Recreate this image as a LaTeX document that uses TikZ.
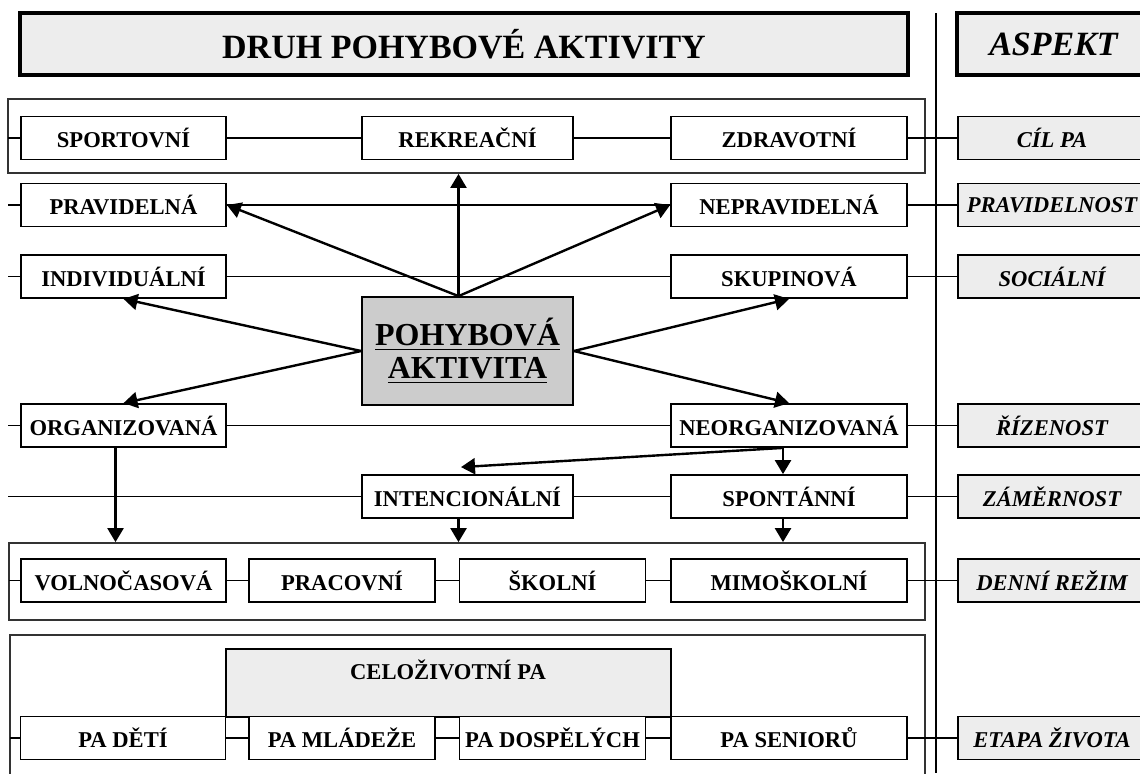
\documentclass[tikz,border=0pt]{standalone}
\usepackage{fontspec}
\setmainfont{Liberation Serif}
\usetikzlibrary{arrows.meta}
\definecolor{panelgray}{HTML}{EDEDED}
\definecolor{coregray}{HTML}{CCCCCC}
\newcommand{\boxfont}{\fontsize{11.3}{13}\selectfont\bfseries}
\newcommand{\headfont}{\fontsize{17}{20}\selectfont\bfseries}

\begin{document}
\begin{tikzpicture}[x=0.5pt,y=-0.5pt,
    kind/.style={draw,fill=white,line width=0.9pt,minimum height=21.5pt,inner sep=1pt,font=\boxfont},
    aspect/.style={kind,fill=panelgray,minimum width=94pt,font=\boxfont\itshape},
    frame/.style={draw=black!80,line width=0.9pt,inner sep=0pt},
    head/.style={draw,fill=panelgray,line width=2pt,minimum height=31pt,font=\headfont}]
    \useasboundingbox (0,0) rectangle (1140,773);

    % headings and the dividing line
    \node (druh) [head,minimum width=444pt] at (464,44) {DRUH POHYBOVÉ AKTIVITY};
    \node (aspekt) [head,minimum width=96.5pt,font=\headfont\itshape] at (1053.5,44) {ASPEKT};
    \draw [line width=0.9pt] (936,13) -- (936,773);

    % frames round the rows
    \node (frame1) [frame,minimum width=458.5pt,minimum height=37pt] at (466.5,136) {};
    \node (frame2) [frame,minimum width=458pt,minimum height=38.5pt] at (467,581.5) {};
    \node (frame3) [frame,minimum width=457.5pt,minimum height=82.5pt] at (467.5,717.5) {};
    \node (celo) [draw,fill=panelgray,line width=0.9pt,minimum width=222.5pt,minimum height=34pt] at (448.5,683) {};
    \node (celotext) [font=\boxfont] at (448,670) {CELOŽIVOTNÍ PA};

    \begin{scope}[every node/.style={kind,minimum width=102.5pt}]
        \node (sport) at (123.5,138) {SPORTOVNÍ};
        \node (prav) at (123.5,205) {PRAVIDELNÁ};
        \node (indiv) at (123.5,276.5) {INDIVIDUÁLNÍ};
        \node (org) at (123.5,425.5) {ORGANIZOVANÁ};
        \node (volno) at (123.5,580.5) {VOLNOČASOVÁ};
        \node (deti) at (123,738) {PA DĚTÍ};
    \end{scope}
    \begin{scope}[every node/.style={kind,minimum width=105.5pt}]
        \node (rekr) at (467.5,138) {REKREAČNÍ};
        \node (intenc) at (467.5,496.5) {INTENCIONÁLNÍ};
    \end{scope}
    \begin{scope}[every node/.style={kind,minimum width=93pt}]
        \node (prac) at (342,580.5) {PRACOVNÍ};
        \node (skol) at (552.5,580.5) {ŠKOLNÍ};
        \node (mladez) at (342,738) {PA MLÁDEŽE};
        \node (dosp) at (552.5,738) {PA DOSPĚLÝCH};
    \end{scope}
    \begin{scope}[every node/.style={kind,minimum width=118pt}]
        \node (zdrav) at (789,138) {ZDRAVOTNÍ};
        \node (neprav) at (789,205) {NEPRAVIDELNÁ};
        \node (skup) at (789,276.5) {SKUPINOVÁ};
        \node (neorg) at (789,425.5) {NEORGANIZOVANÁ};
        \node (spont) at (789,496.5) {SPONTÁNNÍ};
        \node (mimo) at (789,580.5) {MIMOŠKOLNÍ};
        \node (senior) at (789,738) {PA SENIORŮ};
    \end{scope}
    \begin{scope}[every node/.style={aspect}]
        \node (cil) at (1052,138) {CÍL PA};
        \node (pravid) at (1052,205) {PRAVIDELNOST};
        \node (social) at (1052,276.5) {SOCIÁLNÍ};
        \node (rizen) at (1052,425.5) {ŘÍZENOST};
        \node (zamer) at (1052,496.5) {ZÁMĚRNOST};
        \node (rezim) at (1052,580.5) {DENNÍ REŽIM};
        \node (etapa) at (1052,738) {ETAPA ŽIVOTA};
    \end{scope}
    \node (core) [kind,fill=coregray,minimum width=105.5pt,minimum height=54pt,align=center,
        font=\fontsize{16}{16.5}\selectfont\bfseries] at (467.5,351)
        {\underline{POHYBOVÁ}\\\underline{AKTIVITA}};

    % free ends on the left
    \coordinate (e1) at (8,138);
    \coordinate (e2) at (8,205);
    \coordinate (e3) at (8,276.5);
    \coordinate (e4) at (8,425.5);
    \coordinate (e5) at (8,496.5);
    \coordinate (e6) at (9,580.5);
    \coordinate (e7) at (10,738);

    \begin{scope}[every edge/.style={draw,line width=0.9pt}]
        \path
            (e1) edge (sport) (sport) edge (rekr) (rekr) edge (zdrav) (zdrav) edge (cil)
            (e2) edge (prav) (prav) edge (neprav) (neprav) edge (pravid)
            (e3) edge (indiv) (indiv) edge (skup) (skup) edge (social)
            (e4) edge (org) (org) edge (neorg) (neorg) edge (rizen)
            (e5) edge (intenc) (intenc) edge (spont) (spont) edge (zamer)
            (e6) edge (volno) (volno) edge (prac) (prac) edge (skol) (skol) edge (mimo) (mimo) edge (rezim)
            (e7) edge (deti) (deti) edge (mladez) (mladez) edge (dosp) (dosp) edge (senior) (senior) edge (etapa);
    \end{scope}

    % arrows
    \coordinate (apex) at ([xshift=-4.5pt]core.north);
    \coordinate (orgfoot) at ([xshift=-4pt]org.south);
    \coordinate (neorgfoot) at ([xshift=-3pt]neorg.south);
    \coordinate (intfoot) at ([xshift=-4.5pt]intenc.south);
    \coordinate (spontfoot) at ([xshift=-3pt]spont.south);
    \begin{scope}[every edge/.style={draw,line width=1.2pt,-{Triangle[length=7pt,width=8pt]}}]
        \path
            (apex) edge (apex |- frame1.south)
            (apex) edge (prav.east)
            (apex) edge (neprav.west)
            (core.west) edge (indiv.south)
            (core.west) edge (org.north)
            (core.east) edge (skup.south)
            (core.east) edge (neorg.north)
            (orgfoot) edge (orgfoot |- frame2.north)
            (neorgfoot) edge (neorgfoot |- spont.north)
            (neorgfoot) edge ([shift={(-3.25pt,3.5pt)}]intenc.north)
            (intfoot) edge (intfoot |- frame2.north)
            (spontfoot) edge (spontfoot |- frame2.north);
    \end{scope}
\end{tikzpicture}
\end{document}
